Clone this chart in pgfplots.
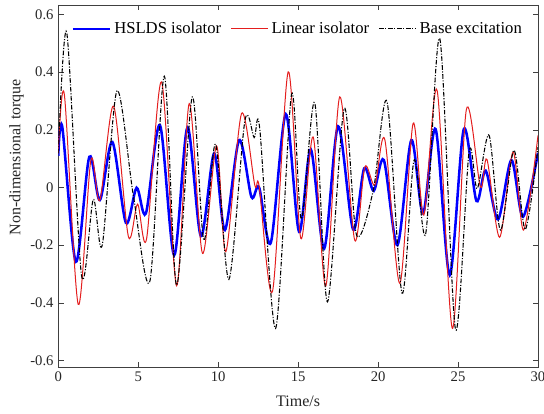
\documentclass[border=0pt]{standalone}
\usepackage{fontspec}
\setmainfont{Liberation Serif}
\usepackage{pgfplots}
\pgfplotsset{compat=1.18}
\definecolor{myred}{RGB}{228,30,30}
\begin{document}
\begin{tikzpicture}
\begin{axis}[
 scale only axis, width=359.8pt, height=271.5pt,
 xmin=0,xmax=30,ymin=-0.623,ymax=0.633,
 xtick={0,5,10,15,20,25,30},
 xticklabels={0,5,10,15,20,25,30},
 ytick={-0.6,-0.4,-0.2,0,0.2,0.4,0.6},
 yticklabels={-0.6,-0.4,-0.2,0,0.2,0.4,0.6},
 tick align=inside, major tick length=4pt,
 axis line style={black!75}, tick style={black!75},
 tick label style={font=\fontsize{11}{13}\selectfont, text=black!85},
 label style={font=\fontsize{12}{14}\selectfont, text=black!85},
 xlabel={Time/s}, ylabel={Non-dimensional torque},
 xlabel style={yshift=-4pt},
 ylabel style={at={(axis description cs:-0.087,0.58)}, anchor=center},
 legend columns=3,
 legend style={draw=none, fill=none, at={(0.5,0.934)}, anchor=center,
   font=\fontsize{12.5}{14}\selectfont,
   /tikz/every even column/.append style={column sep=5pt}},
 legend image code/.code={\draw[#1] (0pt,0pt) -- (28pt,0pt);},
]
\addplot[blue, line width=1.9pt, smooth] coordinates {
(0,0.11) (0.25,0.21) (1.1,-0.258) (1.94,0.106) (2.6,-0.044) (3.38,0.158) (4.23,-0.123) (4.9,-0.001) (5.48,-0.09) (6.36,0.216) (7.25,-0.235) (8.08,0.208) (8.92,-0.169) (9.75,0.118) (10.42,-0.148) (11.31,0.164) (12.08,-0.033) (12.56,0.0) (13.29,-0.192) (14.23,0.254) (15.06,-0.154) (15.79,0.132) (16.63,-0.212) (17.5,0.212) (18.44,-0.146) (19.13,0.066) (19.73,-0.012) (20.36,0.095) (21.21,-0.2) (22.08,0.164) (22.81,-0.09) (23.6,0.202) (24.48,-0.304) (25.36,0.202) (26.15,-0.047) (26.73,0.058) (27.5,-0.111) (28.34,0.095) (29.06,-0.102) (30,0.12)
};
\addlegendentry{HSLDS isolator}
\addplot[myred, line width=0.75pt, smooth] coordinates {
(0,0.118) (0.38,0.323) (1.25,-0.406) (2.04,0.095) (2.6,-0.044) (3.46,0.282) (4.38,-0.169) (4.96,-0.058) (5.52,-0.179) (6.46,0.366) (7.4,-0.341) (8.19,0.291) (9.02,-0.229) (9.9,0.144) (10.48,-0.223) (11.46,0.256) (12.29,0.008) (12.56,0.005) (13.4,-0.36) (14.38,0.401) (15.17,-0.177) (15.94,0.175) (16.73,-0.342) (17.6,0.314) (18.54,-0.183) (19.17,0.071) (19.8,0.008) (20.42,0.166) (21.36,-0.333) (22.19,0.222) (22.86,-0.096) (23.69,0.337) (24.65,-0.489) (25.52,0.27) (26.4,0.002) (26.81,0.097) (27.6,-0.173) (28.44,0.123) (29.1,-0.148) (30,0.18)
};
\addlegendentry{Linear isolator}
\addplot[black, line width=0.8pt, smooth, dash pattern=on 3.5pt off 1.2pt on 0.8pt off 1.2pt] coordinates {
(0,0.118) (0.53,0.537) (1.46,-0.307) (2.19,-0.042) (2.75,-0.2) (3.67,0.335) (4.7,-0.03) (5.73,-0.325) (6.63,0.386) (7.4,-0.339) (8.38,0.314) (9.1,-0.183) (9.84,0.15) (10.67,-0.319) (11.67,0.231) (12.25,0.173) (12.6,0.204) (13.59,-0.489) (14.59,0.323) (15.2,-0.11) (16.04,0.293) (16.83,-0.397) (17.88,0.274) (18.65,-0.165) (19.7,-0.01) (20.56,0.297) (21.5,-0.367) (22.25,0.095) (22.98,-0.16) (23.86,0.516) (24.84,-0.492) (25.69,0.123) (26.2,-0.004) (26.94,0.181) (27.65,-0.148) (28.5,0.129) (29.2,-0.146) (30,0.14)
};
\addlegendentry{Base excitation}
\end{axis}
\pgfresetboundingbox
\path[use as bounding box] (-43.7pt,-35.25pt) rectangle (364.3pt,275.25pt);
\end{tikzpicture}
\end{document}
